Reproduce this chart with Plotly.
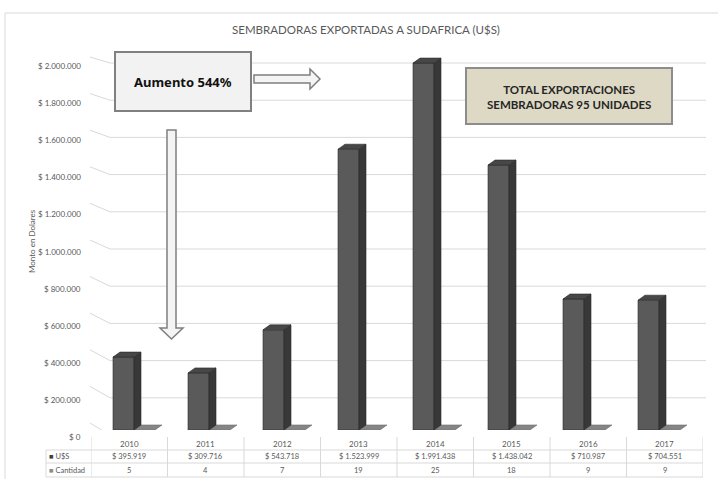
import plotly.graph_objects as go

# ---- data -------------------------------------------------------------
years = ["2010", "2011", "2012", "2013", "2014", "2015", "2016", "2017"]
usd = [395919, 309716, 543718, 1523999, 1991438, 1438042, 710987, 704551]
units = [5, 4, 7, 19, 25, 18, 9, 9]
y_ticks = [0, 200000, 400000, 600000, 800000, 1000000,
           1200000, 1400000, 1600000, 1800000, 2000000]


def money(v):
    return "$ " + f"{v:,}".replace(",", ".")


usd_labels = [money(v) for v in usd]
tick_labels = [money(v) for v in y_ticks]

# ---- canvas helpers -------------------------------------------------------
W, H = 718, 479


def px(x):
    return x / W


def py(y):
    return 1 - y / H


GRID = "#d9d9d9"
TXT = "#595959"
FONT = "Lato"

Y_MAX = 2100000
K = 368.5 / 2000000          # pixels per dollar on the bar scale
Y0_PX = 430                  # pixel row of $0 on the bar scale
top_px = Y0_PX - Y_MAX * K

DX = 7 / 75                  # 3-D depth, horizontal (x2 units)
DY = 5 / K                   # 3-D depth, vertical (dollar units)

fig = go.Figure()

# ---- Cantidad series: flat columns behind/right of the dollar columns -----
q_x, q_y = [], []
for i, q in enumerate(units):
    l, r = i - 0.04, i + 0.24
    q_x += [l, l + DX, r + DX, r, l, None]
    q_y += [q, q + DY, q + DY, q, q, None]
fig.add_trace(go.Bar(
    x=list(range(len(years))), y=units, xaxis="x2", yaxis="y",
    width=0.28, offset=-0.04, marker=dict(color="#808080", line=dict(width=0)),
    name="Cantidad", showlegend=False, hoverinfo="skip"))
fig.add_trace(go.Scatter(
    x=q_x, y=q_y, xaxis="x2", yaxis="y", mode="lines", fill="toself",
    fillcolor="#858585", line=dict(color="#6e6e6e", width=0.6),
    showlegend=False, hoverinfo="skip"))

# ---- U$S series: 3-D columns (front, side, top faces) ---------------------
side_x, side_y, top_x, top_y = [], [], [], []
for i, v in enumerate(usd):
    fl, fr = i - 0.32, i - 0.04
    side_x += [fr, fr + DX, fr + DX, fr, fr, None]
    side_y += [0, DY, v + DY, v, 0, None]
    top_x += [fl, fl + DX, fr + DX, fr, fl, None]
    top_y += [v, v + DY, v + DY, v, v, None]

fig.add_trace(go.Bar(
    x=list(range(len(years))), y=usd, xaxis="x2", yaxis="y",
    width=0.28, offset=-0.32,
    marker=dict(color="#5a5a5a", line=dict(color="#2e2e2e", width=0.6)),
    name="U$S", showlegend=False, hoverinfo="skip"))
fig.add_trace(go.Scatter(
    x=side_x, y=side_y, xaxis="x2", yaxis="y", mode="lines", fill="toself",
    fillcolor="#383838", line=dict(color="#2a2a2a", width=0.6),
    showlegend=False, hoverinfo="skip"))
fig.add_trace(go.Scatter(
    x=top_x, y=top_y, xaxis="x2", yaxis="y", mode="lines", fill="toself",
    fillcolor="#474747", line=dict(color="#2a2a2a", width=0.6),
    showlegend=False, hoverinfo="skip"))

shapes = []
annotations = []


def note(text, x, y, xref="paper", yref="paper", size=8, color=TXT,
         family=FONT, xanchor="center", **kw):
    annotations.append(dict(text=text, x=x, y=y, xref=xref, yref=yref,
                            xanchor=xanchor, yanchor="middle", showarrow=False,
                            font=dict(family=family, size=size, color=color), **kw))


# ---- back-wall gridlines, side-wall connectors and value labels ----------
# (pixel offsets of shapes are measured downward from the anchor value)
for v, lab in zip(y_ticks, tick_labels):
    f = v / 2000000
    grid_up = 5 - 3.5 * f
    lab_up = -7 + 2.5 * f
    shapes.append(dict(type="line", layer="below", xref="paper", yref="y",
                       ysizemode="pixel", yanchor=v,
                       x0=px(110), x1=px(706), y0=-grid_up, y1=-grid_up,
                       line=dict(color=GRID, width=1)))
    shapes.append(dict(type="line", layer="below", xref="paper", yref="y",
                       ysizemode="pixel", yanchor=v,
                       x0=px(90), x1=px(110), y0=-lab_up, y1=-grid_up,
                       line=dict(color=GRID, width=1)))
    note(lab, px(83), v, yref="y", yshift=lab_up, xanchor="right")

# ---- data table under the chart -------------------------------------------
for k in range(len(years) + 1):
    shapes.append(dict(type="line", xref="x", yref="paper",
                       x0=k - 0.5, x1=k - 0.5, y0=py(437), y1=py(477),
                       line=dict(color=GRID, width=1)))
for yy in (450, 463, 477):
    shapes.append(dict(type="line", xref="paper", yref="paper",
                       x0=px(46), x1=px(703), y0=py(yy), y1=py(yy),
                       line=dict(color=GRID, width=1)))
shapes.append(dict(type="line", xref="paper", yref="paper",
                   x0=px(46), x1=px(46), y0=py(450), y1=py(477),
                   line=dict(color=GRID, width=1)))

for i, (yr, ul, q) in enumerate(zip(years, usd_labels, units)):
    note(yr, i, py(444), xref="x", size=8)
    note(ul, i, py(456.5), xref="x", size=7.5)
    note(str(q), i, py(470), xref="x", size=7.5)

note('<span style="color:#404040">■</span> U$S', px(47), py(456.5),
     size=7.5, xanchor="left")
note('<span style="color:#8c8c8c">■</span> Cantidad', px(47), py(470),
     size=7.5, xanchor="left")

# ---- title and axis title ---------------------------------------------------
note("SEMBRADORAS EXPORTADAS A SUDAFRICA (U$S)", px(366), py(30), size=11.5)
note("Monto en Dolares", px(32), py(241), size=8, textangle=-90)

# ---- callouts ---------------------------------------------------------------
shapes.append(dict(type="rect", xref="paper", yref="paper",
                   x0=px(115), x1=px(251), y0=py(52), y1=py(111),
                   fillcolor="#f2f2f2", line=dict(color="#808080", width=2)))
note("<b>Aumento 544%</b>", px(183), py(82), size=13, color="#111111",
     family="Noto Sans")


def path(points):
    return "M " + " L ".join(f"{px(a):.5f},{py(b):.5f}" for a, b in points) + " Z"


right_arrow = [(254, 75), (310, 75), (310, 69), (320, 79), (310, 89), (310, 83), (254, 83)]
down_arrow = [(167, 130), (176, 130), (176, 328), (183, 328), (171.5, 339), (160, 328), (167, 328)]
for pts in (right_arrow, down_arrow):
    shapes.append(dict(type="path", xref="paper", yref="paper", path=path(pts),
                       fillcolor="#f4f4f4", line=dict(color="#7f7f7f", width=1.5)))

shapes.append(dict(type="rect", xref="paper", yref="paper",
                   x0=px(466), x1=px(672), y0=py(68), y1=py(124),
                   fillcolor="#ddd9c4", line=dict(color="#8c8c8c", width=2)))
note("<b>TOTAL EXPORTACIONES<br>SEMBRADORAS 95 UNIDADES</b>", px(569), py(97),
     size=11.5, color="#262626")

# ---- chart frame ------------------------------------------------------------
shapes.append(dict(type="rect", xref="paper", yref="paper",
                   x0=px(5), x1=px(730), y0=py(13), y1=py(495),
                   line=dict(color="#d9d9d9", width=1), layer="below"))

fig.update_layout(
    width=W, height=H, autosize=False,
    margin=dict(l=0, r=0, t=0, b=0, pad=0),
    paper_bgcolor="white", plot_bgcolor="rgba(0,0,0,0)",
    barmode="overlay", showlegend=False,
    xaxis=dict(domain=[px(91), px(703)], range=[-0.5, 7.5], visible=False,
               anchor="y"),
    xaxis2=dict(domain=[px(99.5), px(699.5)], range=[-0.5, 7.5], visible=False,
                anchor="y"),
    yaxis=dict(domain=[py(Y0_PX), py(top_px)], range=[0, Y_MAX], visible=False),
    shapes=shapes, annotations=annotations,
)

fig.write_html("out.html")
